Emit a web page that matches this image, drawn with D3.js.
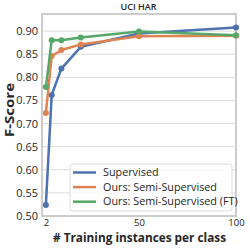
<!DOCTYPE html>
<html><head><meta charset="utf-8">
<script src="https://cdn.jsdelivr.net/npm/d3@7"></script>
<style>body{margin:0;background:#fff}svg{display:block}</style>
</head><body>
<script>
const xValues = [2, 5, 10, 20, 50, 100];
const supervised = [0.524, 0.762, 0.819, 0.866, 0.895, 0.908];
const semiSupervised = [0.723, 0.846, 0.859, 0.871, 0.889, 0.890];
const semiSupervisedFT = [0.779, 0.880, 0.880, 0.886, 0.899, 0.891];
const seriesNames = ["Supervised", "Ours: Semi-Supervised", "Ours: Semi-Supervised (FT)"];
const seriesColors = ["#4c72b0", "#dd8452", "#55a868"];
const yTicks = [0.50, 0.55, 0.60, 0.65, 0.70, 0.75, 0.80, 0.85, 0.90];
const xTicks = [2, 50, 100];
const title = "UCI HAR";
const xLabel = "# Training instances per class";
const yLabel = "F-Score";

const W = 250, H = 250;
const m = {l: 42, r: 14, t: 14, b: 34};
const font = "'Open Sans', sans-serif";
const svg = d3.select("body").append("svg").attr("width", W).attr("height", H);
const x = d3.scaleLinear().domain([0, 100]).range([m.l, W - m.r]);
const y = d3.scaleLinear().domain([0.5, 0.937]).range([H - m.b, m.t]);

// grid
svg.append("g").selectAll("line").data(yTicks).join("line")
  .attr("x1", m.l).attr("x2", W - m.r)
  .attr("y1", d => y(d)).attr("y2", d => y(d))
  .attr("stroke", "#dcdcdc").attr("stroke-width", 1);

// y axis
const yAxis = svg.append("g").attr("transform", `translate(${m.l},0)`)
  .call(d3.axisLeft(y).tickValues(yTicks).tickFormat(d3.format(".2f")).tickSize(0).tickPadding(4));
yAxis.select(".domain").remove();
yAxis.selectAll("text").attr("font-family", font).attr("font-size", 11).attr("fill", "#262626");

// x axis
const xAxis = svg.append("g").attr("transform", `translate(0,${H - m.b})`)
  .call(d3.axisBottom(x).tickValues(xTicks).tickSize(0).tickPadding(3));
xAxis.select(".domain").remove();
xAxis.selectAll("text").attr("font-family", font).attr("font-size", 9.5).attr("fill", "#262626");

// spines
svg.append("rect").attr("x", m.l).attr("y", m.t)
  .attr("width", W - m.l - m.r).attr("height", H - m.t - m.b)
  .attr("fill", "none").attr("stroke", "#cccccc").attr("stroke-width", 2);

const allSeries = [supervised, semiSupervised, semiSupervisedFT];
const line = d3.line().x((d, i) => x(xValues[i])).y(d => y(d));
allSeries.forEach((s, k) => {
  svg.append("path").datum(s).attr("d", line)
    .attr("fill", "none").attr("stroke", seriesColors[k]).attr("stroke-width", 2.5)
    .attr("stroke-linejoin", "round");
  svg.append("g").selectAll("circle").data(s).join("circle")
    .attr("cx", (d, i) => x(xValues[i])).attr("cy", d => y(d)).attr("r", 3)
    .attr("fill", seriesColors[k]);
});

// title
svg.append("text").attr("x", 138.5).attr("y", 10)
  .attr("text-anchor", "middle").attr("font-family", font).attr("font-size", 9)
  .attr("font-weight", 600).attr("fill", "#262626").text(title);

// labels
svg.append("text").attr("x", 139.5).attr("y", 242)
  .attr("text-anchor", "middle").attr("font-family", font).attr("font-size", 12.2)
  .attr("font-weight", "bold").attr("fill", "#262626")
  .attr("textLength", 173).attr("lengthAdjust", "spacingAndGlyphs").text(xLabel);
svg.append("text").attr("transform", `translate(14,110) rotate(-90)`)
  .attr("text-anchor", "middle").attr("font-family", font).attr("font-size", 13)
  .attr("font-weight", "bold").attr("fill", "#262626")
  .attr("textLength", 54).attr("lengthAdjust", "spacingAndGlyphs").text(yLabel);

// legend
const lg = svg.append("g");
lg.append("rect").attr("x", 70).attr("y", 164).attr("width", 162).attr("height", 47)
  .attr("rx", 3).attr("fill", "white").attr("fill-opacity", 0.8)
  .attr("stroke", "#dddddd").attr("stroke-width", 1);
seriesNames.forEach((n, k) => {
  const yy = 172.5 + k * 14.6;
  lg.append("line").attr("x1", 73).attr("x2", 96).attr("y1", yy).attr("y2", yy)
    .attr("stroke", seriesColors[k]).attr("stroke-width", 2.5);
  lg.append("text").attr("x", 103).attr("y", yy).attr("dy", "0.35em")
    .attr("font-family", font).attr("font-size", 10.8).attr("fill", "#262626").text(n);
});
</script>
</body></html>
